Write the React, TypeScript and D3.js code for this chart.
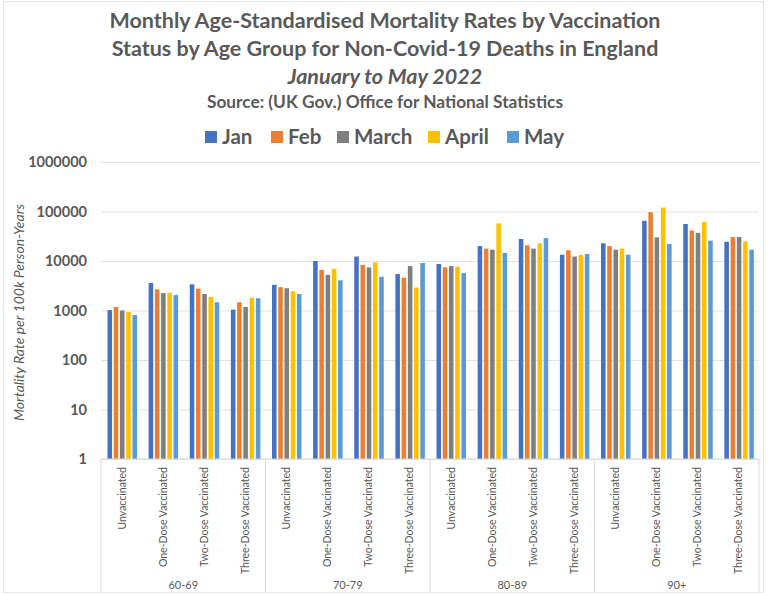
import React, { useEffect, useRef } from 'react';
import * as d3 from 'd3';

const months = ['Jan', 'Feb', 'March', 'April', 'May'];
const monthColors = ['#4472C4', '#ED7D31', '#7F7F7F', '#FFC000', '#5B9BD5'];
const ageGroups = ['60-69', '70-79', '80-89', '90+'];
const statuses = ['Unvaccinated', 'One-Dose Vaccinated', 'Two-Dose Vaccinated', 'Three-Dose Vaccinated'];
const yTicks = [1, 10, 100, 1000, 10000, 100000, 1000000];

// rates per age group, one row per status, columns Jan..May
const rates6069 = [
  [1020, 1180, 1000, 940, 810],
  [3600, 2680, 2250, 2290, 2050],
  [3380, 2760, 2150, 1870, 1470],
  [1040, 1470, 1180, 1810, 1770],
];
const rates7079 = [
  [3300, 2960, 2820, 2450, 2150],
  [10000, 6600, 5250, 6950, 4070],
  [12300, 8300, 7400, 9400, 4800],
  [5450, 4600, 7900, 2900, 9100],
];
const rates8089 = [
  [8700, 7450, 7900, 7600, 5700],
  [20000, 17800, 16900, 57600, 14500],
  [27800, 20800, 17800, 22800, 29000],
  [13400, 16500, 12300, 13200, 13800],
];
const rates90 = [
  [22800, 20000, 16900, 17800, 13400],
  [65000, 97000, 30000, 120000, 22000],
  [56000, 41500, 37000, 61500, 25800],
  [24500, 30500, 30500, 25000, 16900],
];
const ratesByAge = [rates6069, rates7079, rates8089, rates90];

const W = 768;
const H = 595;
const plot = { left: 101, right: 759, top: 162, bottom: 459 };
const font = 'Lato, "Open Sans", sans-serif';
const textColor = '#595959';

export default function App() {
  const svgRef = useRef<SVGSVGElement>(null);

  useEffect(() => {
    if (!svgRef.current) return;
    const svg = d3.select(svgRef.current);
    svg.selectAll('*').remove();

    svg.append('rect')
      .attr('x', 0).attr('y', 0).attr('width', W).attr('height', H)
      .attr('fill', '#fff');
    svg.append('rect')
      .attr('x', 3.5).attr('y', 1.5).attr('width', 760).attr('height', 591)
      .attr('fill', 'none').attr('stroke', '#e6e6e6');

    // Titles
    const titles = [
      { t: 'Monthly Age-Standardised Mortality Rates by Vaccination', y: 28, size: 21.5, s: 'normal' },
      { t: 'Status by Age Group for Non-Covid-19 Deaths in England', y: 56, size: 21.5, s: 'normal' },
      { t: 'January to May 2022', y: 84, size: 21.5, s: 'italic' },
      { t: 'Source: (UK Gov.) Office for National Statistics', y: 108, size: 17.3, s: 'normal' },
    ];
    titles.forEach(d => {
      svg.append('text')
        .attr('x', 385).attr('y', d.y)
        .attr('text-anchor', 'middle')
        .attr('font-family', font)
        .attr('font-size', d.size)
        .attr('font-weight', 'bold')
        .attr('font-style', d.s)
        .attr('fill', textColor)
        .text(d.t);
    });

    // Legend
    const legendX = [205, 271, 337, 428, 507];
    const legend = svg.append('g');
    months.forEach((m, i) => {
      legend.append('rect')
        .attr('x', legendX[i]).attr('y', 131)
        .attr('width', 12).attr('height', 12)
        .attr('fill', monthColors[i]);
      legend.append('text')
        .attr('x', legendX[i] + 17).attr('y', 144)
        .attr('font-family', font).attr('font-size', 20.5).attr('font-weight', 'bold')
        .attr('fill', textColor)
        .text(m);
    });

    // Scales
    const cats = ageGroups.flatMap(a => statuses.map(s => `${a}|${s}`));
    const x0 = d3.scaleBand<string>().domain(cats).range([plot.left, plot.right]);
    const x1 = d3.scaleBand<string>().domain(months).range([6.5, 36]).paddingInner(0.27);
    const y = d3.scaleLog().domain([1, 1000000]).range([plot.bottom, plot.top]);

    // Grid + y labels
    const yAxis = svg.append('g')
      .attr('transform', `translate(${plot.left},0)`)
      .call(d3.axisLeft(y).tickValues(yTicks).tickFormat(d3.format('d'))
        .tickSize(-(plot.right - plot.left)).tickPadding(14));
    yAxis.select('.domain').remove();
    yAxis.selectAll('.tick line').attr('stroke', '#e3e3e3');
    yAxis.selectAll('.tick text')
      .attr('font-family', font).attr('font-size', 14.5).attr('font-weight', 'bold')
      .attr('fill', textColor);

    svg.append('text')
      .attr('transform', `translate(24,${(plot.top + plot.bottom) / 2 + 2}) rotate(-90)`)
      .attr('text-anchor', 'middle')
      .attr('font-family', font).attr('font-size', 14).attr('font-style', 'italic')
      .attr('fill', textColor)
      .text('Mortality Rate per 100k Person-Years');

    // Bars
    const rows = ageGroups.flatMap((a, ai) =>
      statuses.flatMap((s, si) =>
        months.map((m, mi) => ({ cat: `${a}|${s}`, month: m, mi, value: ratesByAge[ai][si][mi] }))));
    svg.append('g')
      .selectAll('rect')
      .data(rows)
      .join('rect')
      .attr('x', d => (x0(d.cat) as number) + (x1(d.month) as number))
      .attr('width', x1.bandwidth())
      .attr('y', d => y(d.value))
      .attr('height', d => plot.bottom - y(d.value))
      .attr('fill', d => monthColors[d.mi]);

    // Category axis
    svg.append('line')
      .attr('x1', plot.left).attr('x2', plot.right)
      .attr('y1', plot.bottom).attr('y2', plot.bottom)
      .attr('stroke', '#d9d9d9');
    const groupW = x0.bandwidth() * statuses.length;
    ageGroups.forEach((a, ai) => {
      const gx = plot.left + ai * groupW;
      svg.append('line')
        .attr('x1', gx).attr('x2', gx).attr('y1', plot.bottom).attr('y2', 592)
        .attr('stroke', '#d9d9d9');
      svg.append('text')
        .attr('x', gx + groupW / 2).attr('y', 589)
        .attr('text-anchor', 'middle')
        .attr('font-family', font).attr('font-size', 11)
        .attr('fill', textColor)
        .text(a);
    });
    svg.append('line')
      .attr('x1', plot.right).attr('x2', plot.right).attr('y1', plot.bottom).attr('y2', 592)
      .attr('stroke', '#d9d9d9');

    svg.append('g')
      .selectAll('text')
      .data(cats)
      .join('text')
      .attr('transform', d => `translate(${(x0(d) as number) + x0.bandwidth() / 2 + 4},467) rotate(-90)`)
      .attr('text-anchor', 'end')
      .attr('font-family', font).attr('font-size', 10.5)
      .attr('fill', textColor)
      .text(d => d.split('|')[1]);
  }, []);

  return (
    <svg
      ref={svgRef}
      width={W}
      height={H}
      style={{ position: 'absolute', left: 0, top: 0 }}
    />
  );
}
